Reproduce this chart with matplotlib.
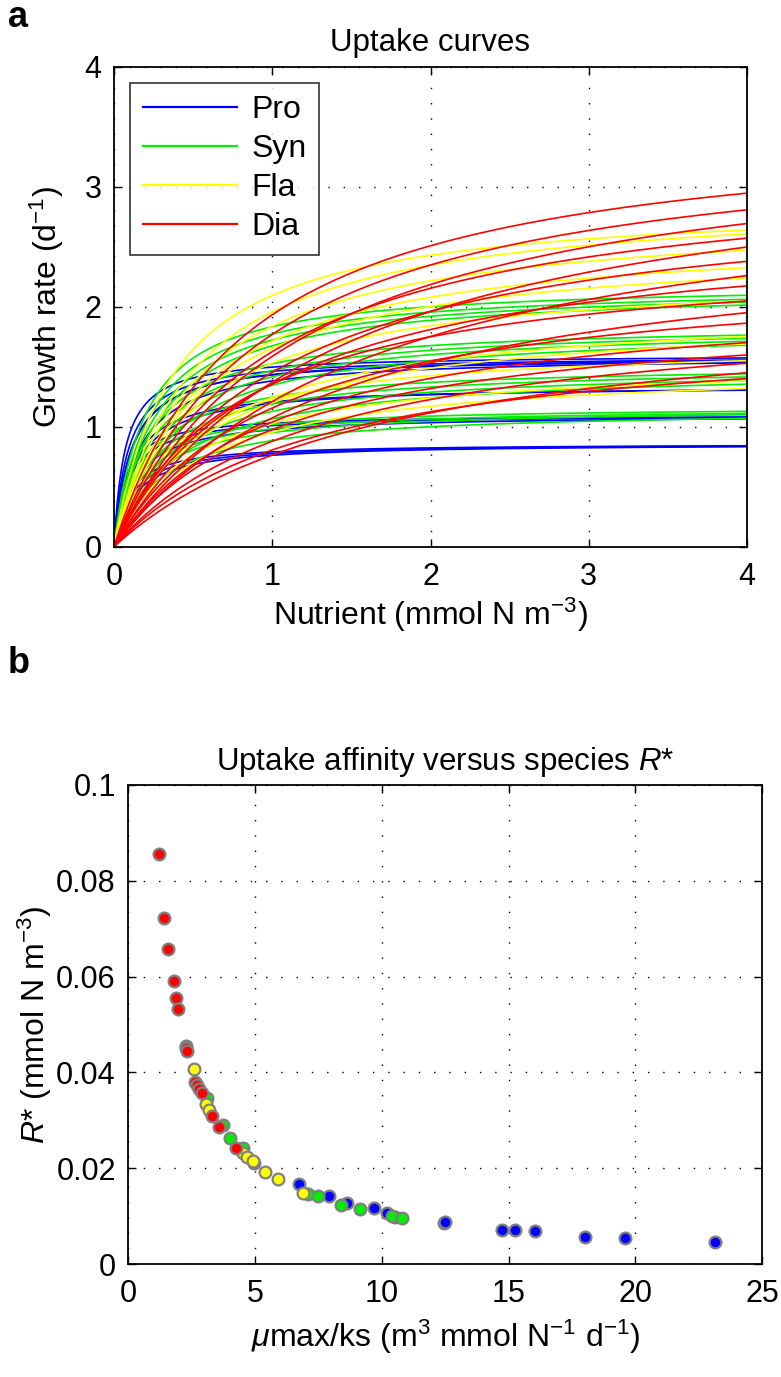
import numpy as np
import matplotlib
matplotlib.use("Agg")
import matplotlib.pyplot as plt
from matplotlib.lines import Line2D

plt.rcParams['font.family'] = ['Liberation Sans', 'DejaVu Sans']
plt.rcParams['mathtext.fontset'] = 'custom'
plt.rcParams['mathtext.rm'] = 'Liberation Sans'
plt.rcParams['mathtext.it'] = 'Liberation Sans:italic'
plt.rcParams['mathtext.default'] = 'regular'

# ---------------- data: uptake curve parameters (mu_max, ks) ----------------
group_names = ["Pro", "Syn", "Fla", "Dia"]
group_colors = ["#0000ff", "#00ee00", "#ffff00", "#ff0000"]

pro_mumax = [0.86, 0.86, 0.86, 1.10, 1.10, 1.10, 1.35, 1.34, 1.59, 1.59, 1.58, 1.59, 1.60]
pro_ks = [0.128, 0.108, 0.089, 0.128, 0.069, 0.090, 0.131, 0.110, 0.151, 0.108, 0.104, 0.088, 0.069]

syn_mumax = [2.20, 2.18, 2.17, 2.16, 1.86, 1.85, 1.84, 1.83, 1.52, 1.51, 1.50, 1.49, 1.17, 1.16, 1.16, 1.15]
syn_ks = [0.20, 0.23, 0.26, 0.29, 0.22, 0.26, 0.30, 0.36, 0.22, 0.27, 0.33, 0.40, 0.15, 0.18, 0.22, 0.30]

fla_mumax = [2.89, 2.93, 2.79, 2.64, 2.54, 2.31, 2.03, 1.96, 1.70, 1.51, 1.56]
fla_ks = [0.38, 0.498, 0.519, 0.540, 0.537, 0.510, 0.633, 0.634, 0.386, 0.581, 0.52]

dia_mumax = [3.57, 3.49, 3.51, 3.19, 3.44, 3.02, 3.18, 2.72, 2.68, 2.34, 2.03, 2.07, 1.86, 2.03, 2.16, 2.47]
dia_ks = [0.847, 0.973, 1.213, 0.963, 1.51, 1.079, 1.63, 1.006, 1.497, 1.025, 1.31, 1.71, 1.308, 1.081, 1.079, 0.824]

# ---------------- data: affinity vs R* ----------------
pro_aff = [6.72, 7.93, 8.61, 9.70, 10.19, 10.54, 12.46, 12.50, 14.75, 15.25, 16.05, 18.01, 19.60, 23.16]
pro_rstar = [0.0168, 0.0142, 0.0127, 0.0116, 0.0106, 0.0099, 0.0086, 0.0087, 0.0071, 0.0070, 0.0068, 0.0057, 0.0054, 0.0045]

syn_aff = [3.09, 3.72, 4.01, 4.53, 4.96, 7.10, 7.47, 8.39, 9.14, 10.40, 10.81]
syn_rstar = [0.0347, 0.0290, 0.0263, 0.0242, 0.0210, 0.0147, 0.0141, 0.0123, 0.0114, 0.0101, 0.0096]

fla_aff = [2.60, 3.05, 3.19, 4.53, 4.67, 4.90, 5.38, 5.89, 6.90]
fla_rstar = [0.0407, 0.0334, 0.0322, 0.0231, 0.0224, 0.0215, 0.0192, 0.0177, 0.0149]

dia_aff = [1.21, 1.42, 1.55, 1.79, 1.88, 1.95, 2.28, 2.29, 2.30, 2.63, 2.70, 2.80, 2.90, 3.29, 3.59, 4.25]
dia_rstar = [0.0856, 0.0722, 0.0658, 0.0591, 0.0555, 0.0533, 0.0456, 0.0450, 0.0445, 0.0381, 0.0374, 0.0366, 0.0357, 0.0308, 0.0286, 0.0242]

x_ticks_a = [0, 1, 2, 3, 4]
y_ticks_a = [0, 1, 2, 3, 4]
x_ticks_b = [0, 5, 10, 15, 20, 25]
y_ticks_b = [0, 0.02, 0.04, 0.06, 0.08, 0.1]
y_ticklabels_b = ["0", "0.02", "0.04", "0.06", "0.08", "0.1"]

FS_TICK = 22
FS_LABEL = 23
FS_TITLE = 22.5

W, H = 781, 1377
fig = plt.figure(figsize=(W / 100, H / 100), dpi=100)

def style_axes(ax):
    ax.tick_params(direction='in', length=6, width=1.0, top=True, right=True,
                   labelsize=FS_TICK)
    ax.tick_params(axis='x', pad=11)
    ax.tick_params(axis='y', pad=9)
    for s in ax.spines.values():
        s.set_linewidth(1.3)
    ax.grid(True, color='black', linestyle=(0, (1, 10)), linewidth=1.0)
    ax.set_axisbelow(True)

# ---------------- panel a ----------------
ax1 = fig.add_axes([114 / W, 1 - 546.7 / H, (747 - 114) / W, (546.7 - 66.7) / H])
N = np.linspace(0, 4, 400)
params = [(pro_mumax, pro_ks), (syn_mumax, syn_ks), (fla_mumax, fla_ks), (dia_mumax, dia_ks)]
for (mus, kss), col in zip(params, group_colors):
    for mu, ks in zip(mus, kss):
        ax1.plot(N, mu * N / (ks + N), color=col, lw=1.2, solid_capstyle='butt')
ax1.set_xlim(0, 4)
ax1.set_ylim(0, 4)
ax1.set_xticks(x_ticks_a)
ax1.set_yticks(y_ticks_a)
style_axes(ax1)
ax1.set_title("Uptake curves", fontsize=FS_TITLE, pad=11)
ax1.set_xlabel("Nutrient (mmol N m$^{-3}$)", fontsize=FS_LABEL, labelpad=3)
ax1.set_ylabel("Growth rate (d$^{-1}$)", fontsize=FS_LABEL)
ax1.yaxis.set_label_coords((66 - 114) / (747 - 114), 0.5)
handles = [Line2D([], [], color=c, lw=1.6) for c in group_colors]
leg = ax1.legend(handles, group_names, loc='upper left', fontsize=23, frameon=True,
                 fancybox=False, edgecolor='black', handlelength=2.95,
                 handletextpad=0.45, labelspacing=0.28, borderaxespad=0.5,
                 borderpad=0.4)
leg.get_frame().set_linewidth(1.2)

# ---------------- panel b ----------------
ax2 = fig.add_axes([128.3 / W, 1 - 1264 / H, (762 - 128.3) / W, (1264 - 785) / H])
scat = [(pro_aff, pro_rstar), (syn_aff, syn_rstar), (fla_aff, fla_rstar), (dia_aff, dia_rstar)]
for (xs, ys), col in zip(scat, group_colors):
    ax2.plot(xs, ys, linestyle='none', marker='o', markersize=8.5,
             markerfacecolor=col, markeredgecolor='#808080', markeredgewidth=1.6)
ax2.set_xlim(0, 25)
ax2.set_ylim(0, 0.1)
ax2.set_xticks(x_ticks_b)
ax2.set_yticks(y_ticks_b)
ax2.set_yticklabels(y_ticklabels_b)
style_axes(ax2)
ax2.set_title("Uptake affinity versus species $\\mathit{R}$*", fontsize=FS_TITLE, pad=11)
ax2.set_xlabel("$\\mathit{\\mu}$max/ks (m$^{3}$ mmol N$^{-1}$ d$^{-1}$)", fontsize=FS_LABEL, labelpad=6)
ax2.set_ylabel("$\\mathit{R}$* (mmol N m$^{-3}$)", fontsize=FS_LABEL)
ax2.yaxis.set_label_coords((54 - 128.3) / (762 - 128.3), 0.5)

fig.text(8 / W, 1 - 0 / H, "a", fontsize=26, fontweight='bold', va='top', ha='left')
fig.text(8 / W, 1 - 646 / H, "b", fontsize=26, fontweight='bold', va='top', ha='left')

fig.savefig("out.png", dpi=100)
